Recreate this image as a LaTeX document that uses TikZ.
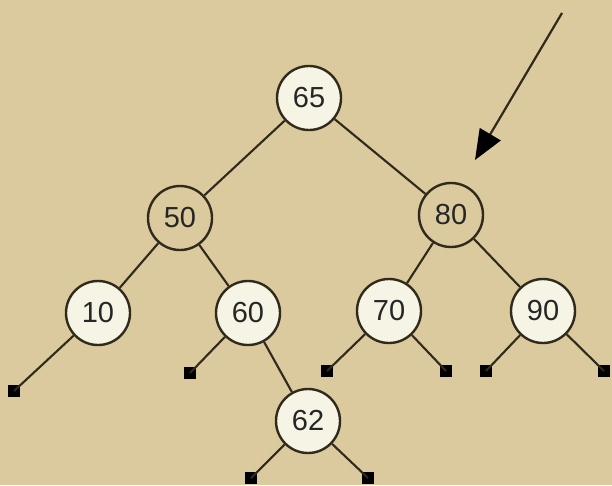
\documentclass[tikz,border=0pt]{standalone}
\usepackage{fontspec}
\setmainfont{Liberation Sans}
\usetikzlibrary{arrows.meta}
\definecolor{paper}{RGB}{218,202,157}
\definecolor{pale}{RGB}{246,244,228}
\definecolor{ink}{RGB}{48,42,28}
\begin{document}
\begin{tikzpicture}[x=1pt,y=-1pt,
  keynode/.style={circle,draw=ink,line width=2.4pt,minimum size=64pt,inner sep=0pt,
    font=\fontsize{29}{29}\selectfont,text=black!85},
  lit/.style={keynode,fill=pale},
  dim/.style={keynode,fill=paper},
  leaf/.style={rectangle,fill=black,minimum size=12.5pt,inner sep=0pt},
  edge/.style={draw=ink,line width=2.1pt}]
  \fill[paper] (0,0) rectangle (612,485);
  \useasboundingbox (0,0) rectangle (612,485);

  % internal nodes
  \node[lit] (n65) at (309,98) {65};
  \node[dim] (n50) at (180,218) {50};
  \node[dim] (n80) at (451,215) {80};
  \node[lit] (n10) at (98,313) {10};
  \node[lit] (n60) at (248,313) {60};
  \node[lit] (n70) at (389,311) {70};
  \node[lit] (n90) at (543,311) {90};
  \node[lit] (n62) at (308,421) {62};

  % empty subtrees
  \node[leaf] (l1) at (14,391) {};
  \node[leaf] (l2) at (190,373) {};
  \node[leaf] (l3) at (327,371) {};
  \node[leaf] (l4) at (446,371) {};
  \node[leaf] (l5) at (486,371) {};
  \node[leaf] (l6) at (604,371) {};
  \node[leaf] (l7) at (251,478) {};
  \node[leaf] (l8) at (368,478) {};

  % tree edges
  \draw[edge] (n65) -- (n50);
  \draw[edge] (n65) -- (n80);
  \draw[edge] (n50) -- (n10);
  \draw[edge] (n50) -- (n60);
  \draw[edge] (n80) -- (n70);
  \draw[edge] (n80) -- (n90);
  \draw[edge] (n10) -- (l1.center);
  \draw[edge] (n60) -- (l2.center);
  \draw[edge] (n60) -- (n62);
  \draw[edge] (n70) -- (l3.center);
  \draw[edge] (n70) -- (l4.center);
  \draw[edge] (n90) -- (l5.center);
  \draw[edge] (n90) -- (l6.center);
  \draw[edge] (n62) -- (l7.center);
  \draw[edge] (n62) -- (l8.center);

  % pointer to the node 80
  \coordinate (ptrstart) at (562,13);
  \coordinate (ptrtip) at (475,160);
  \draw[ink,line width=2.2pt,-{Triangle[length=30pt,width=24pt,color=black]}] (ptrstart) -- (ptrtip);
\end{tikzpicture}
\end{document}
